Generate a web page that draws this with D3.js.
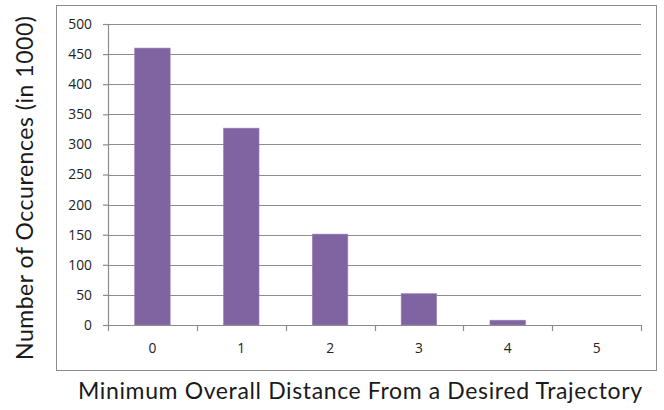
<!DOCTYPE html>
<html>
<head>
<meta charset="utf-8">
<script src="https://cdn.jsdelivr.net/npm/d3@7/dist/d3.min.js"></script>
<style>
  html, body { margin: 0; padding: 0; background: #fff; }
  svg { display: block; }
</style>
</head>
<body>
<svg id="chart" width="664" height="410"></svg>
<script>
// Occurrence counts (in thousands) by minimum overall distance
const categories = ["0", "1", "2", "3", "4", "5"];
const occurrences = [460, 327, 151, 52, 8, 0];
const yTicks = [0, 50, 100, 150, 200, 250, 300, 350, 400, 450, 500];

const svg = d3.select("#chart");
const plot = { left: 108, right: 641, top: 24, bottom: 325 };
const titleFont = "Lato, 'Open Sans', sans-serif";
const tickFont = "'Open Sans', 'DejaVu Sans', sans-serif";

const x = d3.scaleBand()
  .domain(categories)
  .range([plot.left, plot.right])
  .paddingInner(0.6)
  .paddingOuter(0.3);

const y = d3.scaleLinear()
  .domain([0, 500])
  .range([plot.bottom, plot.top]);

// Outer chart frame
svg.append("rect")
  .attr("x", 56.5).attr("y", 5.5)
  .attr("width", 600).attr("height", 365)
  .attr("fill", "#fff")
  .attr("stroke", "#8c8c8c")
  .attr("stroke-width", 1);

// Horizontal gridlines
svg.append("g")
  .selectAll("line")
  .data(yTicks.filter(d => d > 0))
  .join("line")
  .attr("x1", plot.left).attr("x2", plot.right)
  .attr("y1", d => Math.round(y(d)) + 0.5)
  .attr("y2", d => Math.round(y(d)) + 0.5)
  .attr("stroke", "#8c8c8c")
  .attr("stroke-width", 1.2);

// Bars
svg.append("g")
  .selectAll("rect")
  .data(occurrences)
  .join("rect")
  .attr("x", (d, i) => x(categories[i]))
  .attr("width", x.bandwidth())
  .attr("y", d => y(d))
  .attr("height", d => plot.bottom - y(d))
  .attr("fill", "#8064a2")
  .attr("stroke", "#9a83b8")
  .attr("stroke-width", 0.6);

// Y axis
const yAxis = d3.axisLeft(y)
  .tickValues(yTicks)
  .tickSize(5)
  .tickPadding(11)
  .tickFormat(d3.format("d"));

const gy = svg.append("g")
  .attr("transform", `translate(${plot.left},0)`)
  .call(yAxis);
gy.selectAll("text")
  .attr("font-family", tickFont)
  .attr("font-size", 13.8)
  .attr("fill", "#222");
gy.selectAll("line, path").attr("stroke", "#8c8c8c").attr("stroke-width", 1.2);

// X axis: ticks sit on the band boundaries
const boundaries = categories.map(c => x(c) - x.step() * x.paddingInner() / 2)
  .concat([plot.right]);
boundaries[0] = plot.left;
const gx = svg.append("g").attr("transform", `translate(0,${plot.bottom})`);
gx.append("line")
  .attr("x1", plot.left).attr("x2", plot.right)
  .attr("y1", 0.5).attr("y2", 0.5)
  .attr("stroke", "#8c8c8c").attr("stroke-width", 1.2);
gx.selectAll("line.tick")
  .data(boundaries)
  .join("line")
  .attr("class", "tick")
  .attr("x1", d => Math.round(d) + 0.5).attr("x2", d => Math.round(d) + 0.5)
  .attr("y1", 0).attr("y2", 6)
  .attr("stroke", "#8c8c8c").attr("stroke-width", 1.2);
gx.selectAll("text")
  .data(categories)
  .join("text")
  .attr("x", d => x(d) + x.bandwidth() / 2)
  .attr("y", 28)
  .attr("text-anchor", "middle")
  .attr("font-family", tickFont)
  .attr("font-size", 13.8)
  .attr("fill", "#222")
  .text(d => d);

// Axis titles
svg.append("text")
  .attr("transform", "translate(33,188) rotate(-90)")
  .attr("text-anchor", "middle")
  .attr("font-family", titleFont)
  .attr("font-size", 23)
  .attr("textLength", 344)
  .attr("lengthAdjust", "spacing")
  .attr("fill", "#1a1a1a")
  .text("Number of Occurences (in 1000)");

svg.append("text")
  .attr("x", 360)
  .attr("y", 399)
  .attr("text-anchor", "middle")
  .attr("font-family", titleFont)
  .attr("font-size", 23)
  .attr("textLength", 564)
  .attr("lengthAdjust", "spacing")
  .attr("fill", "#1a1a1a")
  .text("Minimum Overall Distance From a Desired Trajectory");
</script>
</body>
</html>
